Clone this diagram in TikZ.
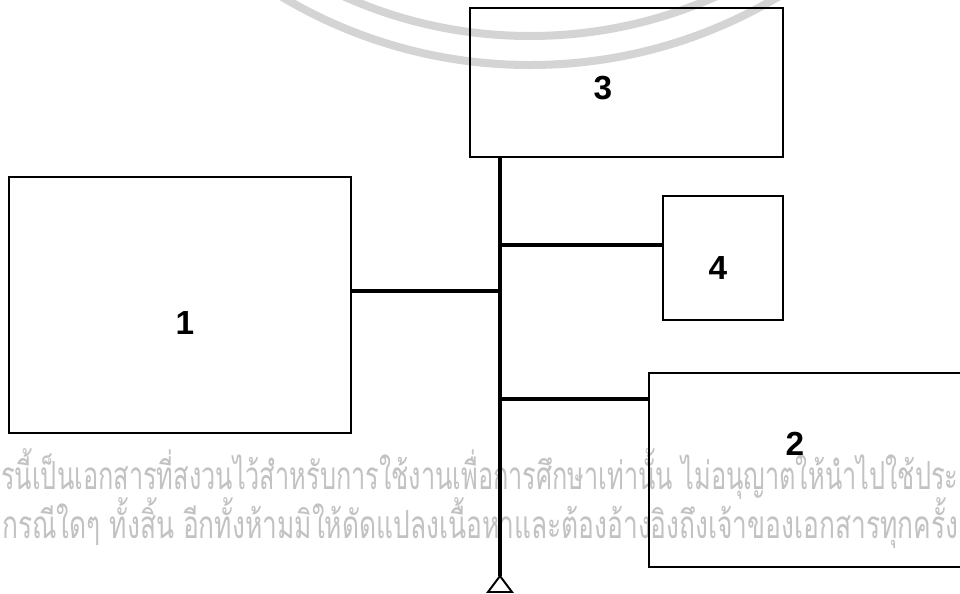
\documentclass[tikz,border=0pt]{standalone}
\usepackage{graphicx}
\usepackage{fontspec}
\setsansfont{Liberation Sans}
\newfontfamily\thaifont[Script=Thai]{Loma}
\usetikzlibrary{positioning}

\begin{document}
\begin{tikzpicture}[
  x=0.02cm, y=-0.02cm,
  every node/.style={font=\sffamily}
]
\tikzset{
  box/.style  ={draw=black, line width=1.1pt, inner sep=0pt, outer sep=0pt},
  num/.style  ={font=\sffamily\bfseries\fontsize{19}{19}\selectfont,
                inner sep=0pt},
  bus/.style  ={line width=2.4pt},
  link/.style ={line width=1.9pt},
  tri/.style  ={line width=1.1pt, line join=miter},
  wm/.style   ={font=\thaifont\fontsize{22}{22}\selectfont, text=black!24,
                inner sep=0pt, anchor=base west},
  seal/.style ={draw=black!17, line width=0.16cm}
}

%% ----- Frame, clip -----
\fill[white, use as bounding box] (0,0) rectangle (960,593);
\clip (0,0) rectangle (960,593);

%% ----- Watermark -----
\draw[seal] (530,-420) circle[radius=485];
\draw[seal] (530,-420) circle[radius=456];
\node[wm] (wm1) at (1,489) {\resizebox{19.14cm}{\height}
  {รนี้เป็นเอกสารที่สงวนไว้สำหรับการใช้งานเพื่อการศึกษาเท่านั้น ไม่อนุญาตให้นำไปใช้ประ}};
\node[wm] (wm2) at (2,538) {\resizebox{19.12cm}{\height}
  {กรณีใดๆ ทั้งสิ้น อีกทั้งห้ามมิให้ดัดแปลงเนื้อหาและต้องอ้างอิงถึงเจ้าของเอกสารทุกครั้ง}};

%% ----- Blocks -----
\node[box, minimum width=6.84cm, minimum height=5.12cm] (b1) at (180,305) {};
\node[box, minimum width=6.26cm, minimum height=2.98cm] (b3) at (626.5,82.5) {};
\node[box, minimum width=2.4cm,  minimum height=2.48cm] (b4) at (723,258) {};
\node[box, minimum width=6.52cm, minimum height=3.88cm] (b2) at (812,470) {};

\node[num] (n1) at (185,323) {1};
\node[num] (n3) at (603,88)  {3};
\node[num] (n4) at (718,268) {4};
\node[num] (n2) at (795,444) {2};

%% ----- Bus and branches -----
\coordinate (tip) at (500,576);
\coordinate (j4)  at (500,245);
\coordinate (j1)  at (500,291);
\coordinate (j2)  at (500,399);

\draw[bus] (b3.south -| tip) -- (tip);
\draw[link] (j4) -- (j4 -| b4.west);
\draw[link] (b1.east |- j1) -- (j1);
\draw[link] (j2) -- (j2 -| b2.west);
\draw[tri] (tip) -- ++(-12,16) -- ++(24,0) -- cycle;

\end{tikzpicture}
\end{document}
